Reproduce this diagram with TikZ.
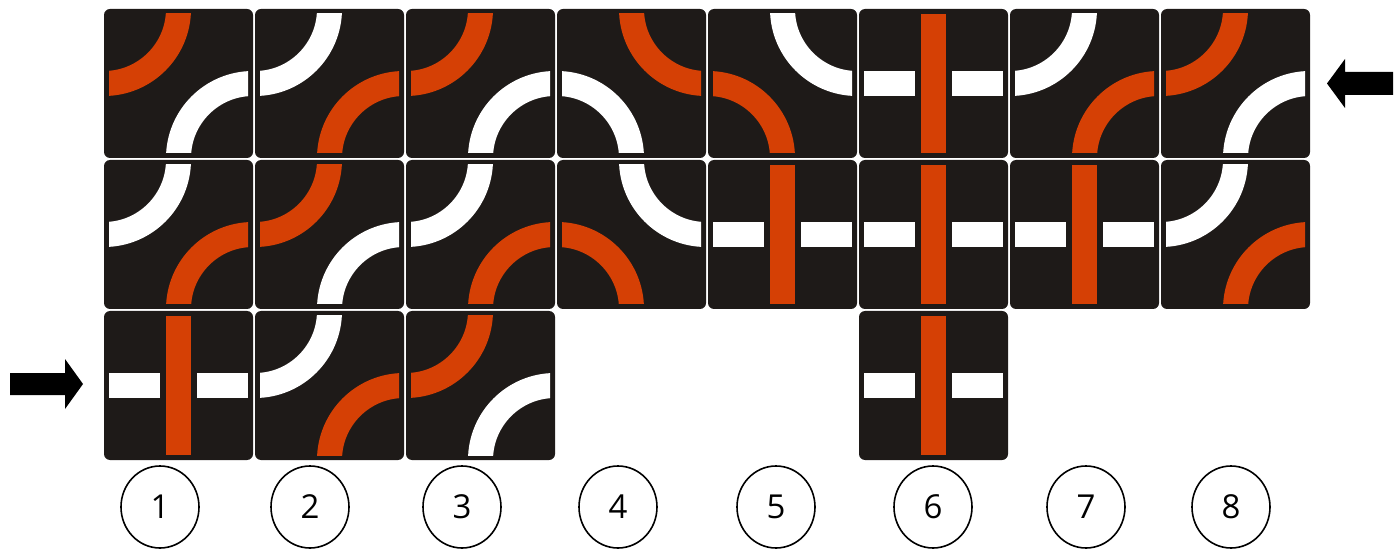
\documentclass[tikz,border=0pt]{standalone}
\usepackage{fontspec}
\setmainfont{Open Sans}
\usetikzlibrary{shapes.geometric}

\definecolor{tiledark}{RGB}{30,26,24}
\definecolor{tileorange}{RGB}{213,64,5}

\tikzset{
    % orange bend top left, white bend bottom right
    pics/ow/.style = {code={
        \fill[tiledark, rounded corners=6] (-74.5,-74.5) rectangle (74.5,74.5);
        \begin{scope}
            \clip (-69.5,-69.5) rectangle (69.5,69.5);
            \draw[line width=25, tileorange] (-74.5,0) arc[start angle=-90, end angle=0, radius=74.5];
            \draw[line width=25, white] (74.5,0) arc[start angle=90, end angle=180, radius=74.5];
        \end{scope}
    }},
    % white bend top left, orange bend bottom right
    pics/wo/.style = {code={
        \fill[tiledark, rounded corners=6] (-74.5,-74.5) rectangle (74.5,74.5);
        \begin{scope}
            \clip (-69.5,-69.5) rectangle (69.5,69.5);
            \draw[line width=25, white] (-74.5,0) arc[start angle=-90, end angle=0, radius=74.5];
            \draw[line width=25, tileorange] (74.5,0) arc[start angle=90, end angle=180, radius=74.5];
        \end{scope}
    }},
    % orange straight over a broken white one
    pics/crossing/.style = {code={
        \fill[tiledark, rounded corners=6] (-74.5,-74.5) rectangle (74.5,74.5);
        \fill[white] (-69.5,-12.5) rectangle (-18.5,12.5);
        \fill[white] (18.5,-12.5) rectangle (69.5,12.5);
        \fill[tileorange] (-12.5,-69.5) rectangle (12.5,69.5);
    }}
}

\begin{document}
\begin{tikzpicture}[
    x=1pt, y=1pt,
    num/.style = {ellipse, draw=black, line width=1.6, minimum width=78, minimum height=82,
                  inner sep=0, font=\fontsize{33}{40}\selectfont},
    pointer/.style = {fill=black}
]
\useasboundingbox (0,0) rectangle (1395,-553);

% tiles, column \c and row \r
\foreach \c/\r in {1/1, 3/1, 8/1, 2/2, 3/3}
    \pic at (\c*151+27.5, -\r*151+67.5) {ow};
\foreach \c/\r in {2/1, 7/1, 1/2, 3/2, 8/2, 2/3}
    \pic at (\c*151+27.5, -\r*151+67.5) {wo};
\foreach \c/\r in {4/1}
    \pic[rotate=-90] at (\c*151+27.5, -\r*151+67.5) {ow};
\foreach \c/\r in {5/1, 4/2}
    \pic[rotate=-90] at (\c*151+27.5, -\r*151+67.5) {wo};
\foreach \c/\r in {6/1, 5/2, 6/2, 7/2, 1/3, 6/3}
    \pic at (\c*151+27.5, -\r*151+67.5) {crossing};

% entry and exit arrows
\fill[pointer] (10,-373) -- (65,-373) -- (65,-359) -- (83,-384)
    -- (65,-409) -- (65,-395) -- (10,-395) -- cycle;
\fill[pointer] (1393,-72) -- (1345,-72) -- (1345,-59) -- (1327,-83.5)
    -- (1345,-108) -- (1345,-95) -- (1393,-95) -- cycle;

% column numbers
\foreach \n/\x in {1/160, 2/310, 3/462, 4/618, 5/776, 6/933, 7/1086, 8/1231}
    \node[num] (n\n) at (\x,-507) {\n};

\end{tikzpicture}
\end{document}
